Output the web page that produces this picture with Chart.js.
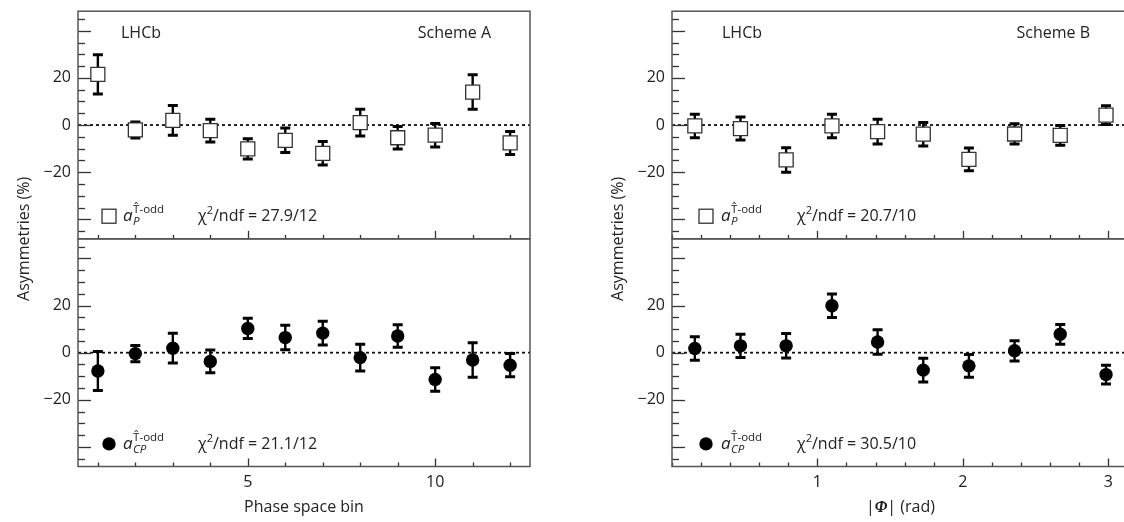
<!DOCTYPE html>
<html>
<head>
<meta charset="utf-8">
<script src="https://cdn.jsdelivr.net/npm/chart.js@4.4.0/dist/chart.umd.min.js"></script>
<style>
  html, body { margin: 0; padding: 0; background: #fff; width: 1124px; height: 522px; overflow: hidden; }
  canvas { position: absolute; top: 0; }
  #left { left: 0; }
  #right { left: 560px; }
</style>
</head>
<body>
<canvas id="left" width="560" height="522"></canvas>
<canvas id="right" width="580" height="522"></canvas>
<script>
// Scheme A: phase space bins
const phaseBins = [1, 2, 3, 4, 5, 6, 7, 8, 9, 10, 11, 12];
const aP_A  = [21.5, -2.1, 2.0, -2.4, -10.1, -6.5, -12.0, 1.0, -5.4, -4.3, 14.0, -7.6];
const aCP_A = [-7.8, -0.4, 1.9, -3.7, 10.3, 6.4, 8.3, -2.1, 7.1, -11.4, -3.1, -5.3];
const errA  = [8.3, 3.4, 6.3, 4.8, 4.3, 5.2, 5.0, 5.7, 4.8, 5.0, 7.3, 4.9];

// Scheme B: |Phi| bins (rad)
const phiBins = [0.157, 0.471, 0.785, 1.100, 1.414, 1.728, 2.042, 2.356, 2.670, 2.985];
const aP_B  = [-0.4, -1.5, -14.8, -0.4, -2.8, -3.9, -14.6, -3.8, -4.4, 4.2];
const aCP_B = [1.8, 2.9, 2.9, 19.9, 4.5, -7.4, -5.6, 0.8, 7.8, -9.3];
const errB  = [5.0, 4.9, 5.2, 5.0, 5.2, 5.0, 4.8, 4.3, 4.2, 4.0];

// tick labels
const yTicks = [-20, 0, 20];
const xTicksA = [5, 10];
const xTicksB = [1, 2, 3];

const FAM = "'Open Sans', 'DejaVu Sans', sans-serif";
const INK = '#222';

//draws frames, inward ticks, zero line, error bars and the texts
const panelsPlugin = {
  id: 'panels',
  beforeDatasetsDraw(chart, args, o) {
    const ctx = chart.ctx;
    const x = chart.scales.x;
    const L = chart.chartArea.left, R = chart.chartArea.right;
    ctx.save();
    for (const id of ['yTop', 'yBot']) {
      const y = chart.scales[id];
      //dashed zero line
      const y0 = y.getPixelForValue(0);
      ctx.strokeStyle = '#111';
      ctx.lineWidth = 1.8;
      ctx.setLineDash([3, 3]);
      ctx.beginPath(); ctx.moveTo(L, y0); ctx.lineTo(R, y0); ctx.stroke();
      ctx.setLineDash([]);
      //y ticks pointing inside
      ctx.strokeStyle = '#333';
      ctx.lineWidth = 1.3;
      for (let v = Math.ceil(y.min / 5) * 5; v <= y.max; v += 5) {
        const py = Math.round(y.getPixelForValue(v)) + 0.5;
        const len = v % 20 === 0 ? 13 : 7;
        ctx.beginPath(); ctx.moveTo(L, py); ctx.lineTo(L + len, py); ctx.stroke();
      }
      //x ticks at the panel bottom
      const n = Math.round(x.max / o.minorStep);
      for (let k = 0; k <= n; k++) {
        const v = +(k * o.minorStep).toFixed(3);
        if (v < x.min || v > x.max) continue;
        const px = Math.round(x.getPixelForValue(v)) + 0.5;
        const major = o.majors.includes(v);
        ctx.beginPath(); ctx.moveTo(px, y.bottom); ctx.lineTo(px, y.bottom - (major ? 8 : 4)); ctx.stroke();
      }
      //frame
      ctx.strokeStyle = '#555';
      ctx.lineWidth = 1.5;
      ctx.strokeRect(L, y.top, R - L, y.bottom - y.top);
    }
    //error bars
    ctx.strokeStyle = '#000';
    chart.data.datasets.forEach((ds) => {
      const ys = chart.scales[ds.yAxisID];
      ds.data.forEach((p, j) => {
        const px = x.getPixelForValue(p.x);
        const hi = ys.getPixelForValue(p.y + ds.err[j]);
        const lo = ys.getPixelForValue(p.y - ds.err[j]);
        ctx.lineWidth = 2.4;
        ctx.beginPath(); ctx.moveTo(px, hi); ctx.lineTo(px, lo); ctx.stroke();
        ctx.lineWidth = 3;
        ctx.beginPath();
        ctx.moveTo(px - 5, hi); ctx.lineTo(px + 5, hi);
        ctx.moveTo(px - 5, lo); ctx.lineTo(px + 5, lo);
        ctx.stroke();
      });
    });
    ctx.restore();
  },
  afterDraw(chart, args, o) {
    const ctx = chart.ctx;
    const a = chart.chartArea;
    const yT = chart.scales.yTop, yB = chart.scales.yBot;
    ctx.save();
    ctx.fillStyle = INK;
    ctx.textBaseline = 'middle';
    ctx.font = '16px ' + FAM;
    //labels
    const yl = yT.getPixelForValue(38.7);
    ctx.textAlign = 'left';
    ctx.fillText('LHCb', a.left + o.lhcbX, yl);
    ctx.textAlign = 'right';
    ctx.fillText(o.scheme, a.left + o.schemeX, yl);
    //legend rows
    const rows = [[yT, 'rect', 'P', o.chiP], [yB, 'circle', 'CP', o.chiCP]];
    for (const [ys, shape, sub, chi] of rows) {
      const py = ys.getPixelForValue(-38.7);
      const mx = a.left + o.legX;
      if (shape === 'rect') {
        ctx.fillStyle = '#fff';
        ctx.fillRect(mx - 7, py - 7, 14, 14);
        ctx.strokeStyle = '#333';
        ctx.lineWidth = 1.3;
        ctx.strokeRect(mx - 7, py - 7, 14, 14);
      } else {
        ctx.fillStyle = '#000';
        ctx.beginPath(); ctx.arc(mx, py, 6.7, 0, Math.PI * 2); ctx.fill();
      }
      ctx.fillStyle = INK;
      ctx.textAlign = 'left';
      ctx.textBaseline = 'alphabetic';
      let tx = a.left + o.aX;
      const base = py + 5;
      ctx.font = 'italic 17px ' + FAM;
      ctx.fillText('a', tx, base);
      tx += ctx.measureText('a').width + 0.5;
      ctx.font = '11.5px ' + FAM;
      ctx.fillText('T\u0302-odd', tx, base - 8);
      ctx.font = 'italic 11.5px ' + FAM;
      ctx.fillText(sub, tx, base + 4);
      //chi2
      let cx = a.left + o.chiX;
      ctx.font = '16px ' + FAM;
      ctx.fillText('\u03c7', cx, base);
      cx += ctx.measureText('\u03c7').width;
      ctx.font = '11px ' + FAM;
      ctx.fillText('2', cx, base - 7);
      cx += ctx.measureText('2').width;
      ctx.font = '16px ' + FAM;
      ctx.fillText('/ndf = ' + chi, cx, base);
    }
    //y title
    ctx.save();
    ctx.translate(a.left - 54, (a.top + a.bottom) / 2);
    ctx.rotate(-Math.PI / 2);
    ctx.textAlign = 'center';
    ctx.textBaseline = 'middle';
    ctx.font = '16px ' + FAM;
    ctx.fillText('Asymmetries (%)', 0, 0);
    ctx.restore();
    //x title made of pieces
    let w = 0;
    for (const p of o.xTitle) { ctx.font = p.f; w += ctx.measureText(p.t).width; }
    let tx = (a.left + a.right) / 2 - w / 2;
    ctx.textAlign = 'left';
    ctx.textBaseline = 'middle';
    for (const p of o.xTitle) {
      ctx.font = p.f;
      ctx.fillText(p.t, tx, a.bottom + 41);
      tx += ctx.measureText(p.t).width;
    }
    ctx.restore();
  }
};

function yScale(width) {
  return {
    type: 'linear',
    position: 'left',
    stack: 'panels',
    stackWeight: 1,
    min: -48.3,
    max: 48.3,
    afterFit: (s) => { s.width = width; s.paddingTop = 0; s.paddingBottom = 0; },
    afterBuildTicks: (s) => { s.ticks = yTicks.map((v) => ({ value: v })); },
    grid: { display: false, drawTicks: false },
    border: { display: false },
    ticks: {
      padding: 7,
      color: INK,
      font: { family: FAM, size: 16 },
      callback: (v) => (v < 0 ? '\u2212' + Math.abs(v) : String(v)),
    },
  };
}

function makeChart(id, xs, top, bottom, err, opt) {
  return new Chart(document.getElementById(id), {
    type: 'scatter',
    plugins: [panelsPlugin],
    data: {
      datasets: [
        {
          data: xs.map((v, i) => ({ x: v, y: top[i] })),
          err: err,
          yAxisID: 'yTop',
          pointStyle: 'rect',
          pointRadius: 9.9,
          backgroundColor: '#fff',
          borderColor: '#333',
          borderWidth: 1.3,
        },
        {
          data: xs.map((v, i) => ({ x: v, y: bottom[i] })),
          err: err,
          yAxisID: 'yBot',
          pointStyle: 'circle',
          pointRadius: 6.7,
          backgroundColor: '#000',
          borderColor: '#000',
          borderWidth: 0,
        },
      ],
    },
    options: {
      responsive: false,
      animation: false,
      layout: { padding: { top: 8, right: opt.padRight, left: 0, bottom: 0 } },
      plugins: {
        legend: { display: false },
        tooltip: { enabled: false },
        panels: opt,
      },
      scales: {
        x: {
          type: 'linear',
          min: opt.xmin,
          max: opt.xmax,
          afterFit: (s) => { s.height = 55.5; s.paddingLeft = 0; s.paddingRight = 0; },
          afterBuildTicks: (s) => { s.ticks = opt.majors.map((v) => ({ value: v })); },
          grid: { display: false, drawTicks: false },
          border: { display: false },
          ticks: { padding: 6, color: INK, font: { family: FAM, size: 16 } },
        },
        //bottom panel first so the top panel sits on top of the stack
        yBot: yScale(opt.axisW),
        yTop: yScale(opt.axisW),
      },
    },
  });
}

makeChart('left', phaseBins, aP_A, aCP_A, errA, {
  xmin: 0.47, xmax: 12.53, majors: xTicksA, minorStep: 1,
  axisW: 78, padRight: 30,
  scheme: 'Scheme A', chiP: '27.9/12', chiCP: '21.1/12',
  lhcbX: 43, schemeX: 413, legX: 31, aX: 45, chiX: 120,
  xTitle: [{ t: 'Phase space bin', f: '16px ' + FAM }],
});

makeChart('right', phiBins, aP_B, aCP_B, errB, {
  xmin: 0, xmax: 3.1416, majors: xTicksB, minorStep: 0.2,
  axisW: 112, padRight: 9,
  scheme: 'Scheme B', chiP: '20.7/10', chiCP: '30.5/10',
  lhcbX: 50, schemeX: 418, legX: 34, aX: 49, chiX: 125,
  xTitle: [
    { t: '|', f: '16px ' + FAM },
    { t: '\u03a6', f: "italic bold 16px 'Liberation Serif', serif" },
    { t: '| (rad)', f: '16px ' + FAM },
  ],
});
</script>
</body>
</html>
